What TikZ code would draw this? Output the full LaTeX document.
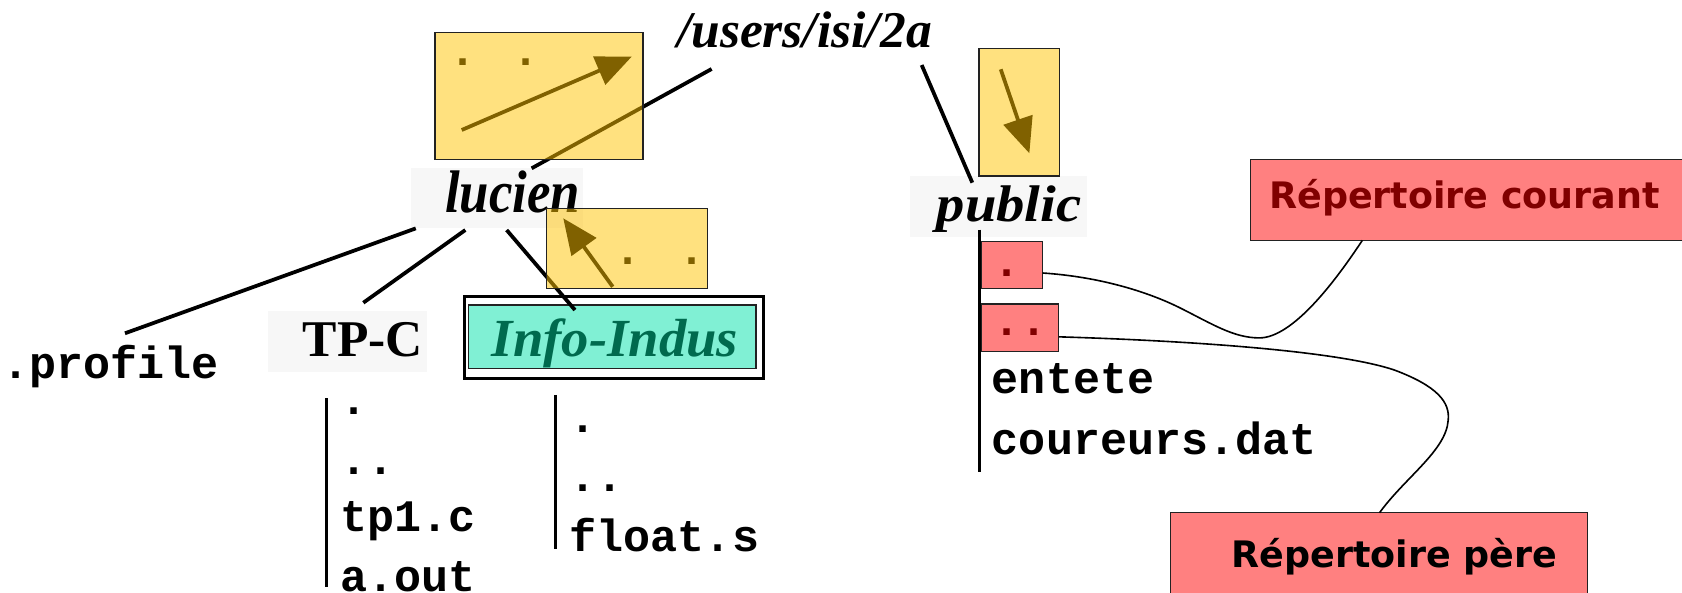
\documentclass[tikz,border=0pt]{standalone}
\usepackage{fontspec}
\setmainfont{Liberation Serif}
\newfontfamily\monof{Liberation Mono}
\newfontfamily\vsans{DejaVu Sans}
\usetikzlibrary{arrows.meta}
\definecolor{ybox}{HTML}{FFC300}
\definecolor{bggray}{HTML}{F7F7F7}
\definecolor{tealfill}{HTML}{80F0D4}
\definecolor{tealtext}{HTML}{006A4E}
\definecolor{redfill}{HTML}{FF8080}
\definecolor{darkred}{HTML}{800000}
\definecolor{edgecol}{HTML}{222222}
\tikzset{
  treeline/.style={line width=3.5pt, black},
  listline/.style={line width=2.8pt, black},
  ptr/.style={line width=3.5pt, black, -{Triangle[length=33pt,width=28pt]}},
  yellowbox/.style={rectangle, inner sep=0pt, fill=ybox, fill opacity=0.5, draw=edgecol, line width=1.2pt},
  redrect/.style={rectangle, inner sep=0pt, fill=redfill, draw=edgecol, line width=1.2pt},
  bgbox/.style={rectangle, inner sep=0pt, fill=bggray},
  lbl/.style={anchor=base west, inner sep=0pt},
  mono/.style={anchor=base west, inner sep=0pt, font=\monof\bfseries\fontsize{42}{44}\selectfont},
  redlbl/.style={anchor=base west, inner sep=0pt, font=\vsans\bfseries\fontsize{34}{36}\selectfont},
  link/.style={line width=1.5pt, black},
}
\begin{document}
\begin{tikzpicture}[x=1pt,y=-1pt]
\useasboundingbox (0,0) rectangle (1568,552);
\clip (0,0) rectangle (1568,552);

% light backgrounds of the directory names
\node[bgbox, minimum width=160.6pt, minimum height=55.6pt] (lucienbg) at (463.3,184.8) {};
\node[bgbox, minimum width=147.7pt, minimum height=56.5pt] (tpcbg) at (324,318.25) {};
\node[bgbox, minimum width=164.7pt, minimum height=56.6pt] (publicbg) at (930.65,192.3) {};

% Info-Indus double frame
\node[rectangle, inner sep=0pt, draw=black, line width=3.1pt, fill=white, minimum width=278.8pt, minimum height=76.1pt] (infoout) at (572.2,314.65) {};
\node[rectangle, inner sep=0pt, draw=edgecol, line width=1.5pt, fill=tealfill, minimum width=267.9pt, minimum height=59.1pt] (infoin) at (570.55,313.85) {};

% end points of the tree lines
\coordinate (usersL) at (663.4,64.3);
\coordinate (usersR) at (859.2,60.6);
\coordinate (lucTop) at (495.6,156.9);
\coordinate (pubTop) at (906.4,170.3);
\coordinate (lucB1) at (387.6,212.9);
\coordinate (lucB2) at (433.8,214.4);
\coordinate (lucB3) at (472.3,214.4);
\coordinate (profTop) at (116.5,310.7);
\coordinate (tpcTop) at (338.7,282.2);
\coordinate (infoTop) at (536,289);
\coordinate (tpcV1) at (304.5,371.3);
\coordinate (tpcV2) at (304.5,547);
\coordinate (infV1) at (518,368.2);
\coordinate (infV2) at (518,512);

\draw[treeline] (usersL) -- (lucTop);
\draw[treeline] (usersR) -- (pubTop);
\draw[treeline] (lucB1) -- (profTop);
\draw[treeline] (lucB2) -- (tpcTop);
\draw[treeline] (lucB3) -- (infoTop);
\draw[listline] (tpcV1) -- (tpcV2);
\draw[listline] (infV1) -- (infV2);

% names
\node[lbl, font=\bfseries\itshape\fontsize{48}{50}\selectfont] (users) at (631,44) {/users/isi/2a};
\node[lbl] (lucien) at (414.8,198) {\scalebox{0.88}[1]{\bfseries\itshape\fontsize{56}{60}\selectfont lucien}};
\node[lbl] (public) at (873,206.7) {\scalebox{1.1}[1]{\bfseries\itshape\fontsize{48}{50}\selectfont public}};
\node[lbl] (tpc) at (282,332.5) {\bfseries\fontsize{48}{50}\selectfont TP-C};
\node[lbl, text=tealtext] (info) at (458.3,332.5) {\scalebox{1.02}[1]{\bfseries\itshape\fontsize{50}{52}\selectfont Info-Indus}};

% file lists
\node[mono] (profile) at (2,352.7) {.profile};
\node[mono] (tdot) at (317.4,386) {.};
\node[mono] (tdd) at (317.4,442) {..};
\node[mono] (tp1) at (317.4,495.6) {tp1.c};
\node[mono] (aout) at (317.4,551) {a.out};
\node[mono] (idot) at (531,403) {.};
\node[mono] (idd) at (531,458) {..};
\node[mono] (float) at (531,514.3) {float.s};
\node[mono] (entete) at (924.5,367) {entete};
\node[mono] (coureurs) at (924.5,424) {coureurs.dat};

% arrows and dots under the yellow boxes
\coordinate (a1s) at (430.4,121.2);
\coordinate (a1e) at (588.9,52.8);
\coordinate (a2s) at (571.2,267.3);
\coordinate (a2e) at (525.1,203.5);
\coordinate (a3s) at (932.9,64.6);
\coordinate (a3e) at (959.6,142.9);
\draw[ptr] (a1s) -- (a1e);
\draw[ptr] (a2s) -- (a2e);
\draw[ptr] (a3s) -- (a3e);
\node[mono] (topdots) at (419,61.4) {. .};
\node[mono] (smalldots) at (573.1,247) {. .};

% yellow boxes (transparent)
\node[yellowbox, minimum width=194pt, minimum height=118.5pt] (topbox) at (502.5,89.75) {};
\node[yellowbox, minimum width=149.8pt, minimum height=74.6pt] (smallbox) at (584.5,231.5) {};
\node[yellowbox, minimum width=74.9pt, minimum height=119pt] (tallbox) at (950.05,104.5) {};

% red boxes of public
\node[redrect, minimum width=57.5pt, minimum height=44pt] (cur) at (943.25,247) {};
\node[redrect, minimum width=72.5pt, minimum height=44.5pt] (par) at (950.75,305.75) {};
\node[mono, text=darkred] (curdot) at (925.9,257.5) {.};
\node[mono, text=darkred] (pardot) at (925.9,312.5) {..};
\coordinate (pubV1) at (913.5,214);
\coordinate (pubV2) at (913.5,439.6);
\draw[listline] (pubV1) -- (pubV2);

% labels
\node[redrect, minimum width=424pt, minimum height=75pt] (courant) at (1378,186.5) {};
\node[redrect, minimum width=389pt, minimum height=87pt] (pere) at (1285.5,521.5) {};
\node[redlbl, text=darkred] (courtxt) at (1183,194.2) {Répertoire courant};
\node[redlbl, text=black] (peretxt) at (1148,528.9) {Répertoire père};

% connecting curves
\coordinate (c1s) at (972,254.5);
\coordinate (c1e) at (1270,224);
\coordinate (c2s) at (987,314);
\coordinate (c2e) at (1286,478);
\draw[link] (c1s) .. controls (1025,258) and (1070,272) .. (1100,287)
  .. controls (1130,302) and (1150,315) .. (1174,315)
  .. controls (1205,315) and (1245,262) .. (c1e);
\draw[link] (c2s) .. controls (1120,318) and (1250,328) .. (1300,345)
  .. controls (1340,360) and (1352,375) .. (1350,392)
  .. controls (1348,420) and (1310,445) .. (c2e);
\end{tikzpicture}
\end{document}
